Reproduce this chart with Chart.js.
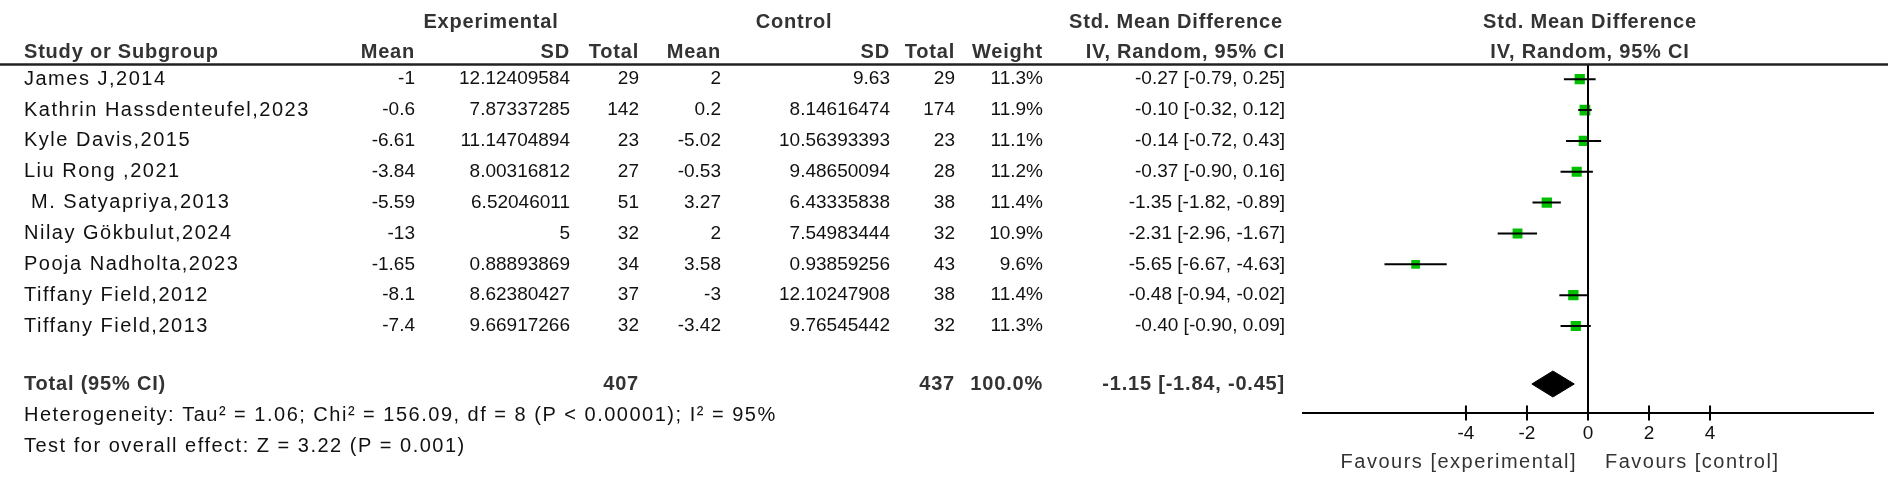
<!DOCTYPE html>
<html>
<head>
<meta charset="utf-8">
<script src="https://cdn.jsdelivr.net/npm/chart.js@4.4.1/dist/chart.umd.min.js"></script>
<style>
  html, body { margin: 0; padding: 0; background: #fff; }
  #wrap { width: 1901px; height: 481px; position: relative; }
</style>
</head>
<body>
<div id="wrap"><canvas id="forest"></canvas></div>
<script>
const studies = ['James J,2014', 'Kathrin Hassdenteufel,2023', 'Kyle Davis,2015', 'Liu Rong ,2021', ' M. Satyapriya,2013',
	'Nilay Gökbulut,2024', 'Pooja Nadholta,2023', 'Tiffany Field,2012', 'Tiffany Field,2013'];
const expMean = ['-1', '-0.6', '-6.61', '-3.84', '-5.59', '-13', '-1.65', '-8.1', '-7.4'];
const expSD = ['12.12409584', '7.87337285', '11.14704894', '8.00316812', '6.52046011', '5', '0.88893869', '8.62380427', '9.66917266'];
const expTotal = [29, 142, 23, 27, 51, 32, 34, 37, 32];
const ctlMean = ['2', '0.2', '-5.02', '-0.53', '3.27', '2', '3.58', '-3', '-3.42'];
const ctlSD = ['9.63', '8.14616474', '10.56393393', '9.48650094', '6.43335838', '7.54983444', '0.93859256', '12.10247908', '9.76545442'];
const ctlTotal = [29, 174, 23, 28, 38, 32, 43, 38, 32];
const weight = [11.3, 11.9, 11.1, 11.2, 11.4, 10.9, 9.6, 11.4, 11.3];
const smd = [-0.27, -0.10, -0.14, -0.37, -1.35, -2.31, -5.65, -0.48, -0.40];
const ciLow = [-0.79, -0.32, -0.72, -0.90, -1.82, -2.96, -6.67, -0.94, -0.90];
const ciHigh = [0.25, 0.12, 0.43, 0.16, -0.89, -1.67, -4.63, -0.02, 0.09];
const totalN = [407, 437];
const totalEst = [-1.15, -1.84, -0.45]; // estimate, lower, upper
const xTicks = [-4, -2, 0, 2, 4];

const TOTAL_ROW = 9.88;
const fmt = v => v.toFixed(2);

const datasets = [];
studies.forEach((s, i) => {
	datasets.push({
		type: 'line',
		data: [{ x: ciLow[i], y: i }, { x: ciHigh[i], y: i }],
		borderColor: '#000',
		borderWidth: 2,
		pointRadius: 0,
	});
});
datasets.push({
	type: 'scatter',
	data: smd.map((v, i) => ({ x: v, y: i })),
	pointStyle: 'rect',
	pointRadius: weight.map(w => w * 0.64),
	backgroundColor: '#00c000',
	borderColor: '#00c000',
	borderWidth: 0,
});
// pooled estimate diamond
datasets.push({
	type: 'line',
	data: [
		{ x: totalEst[1], y: TOTAL_ROW },
		{ x: totalEst[0], y: TOTAL_ROW - 0.42 },
		{ x: totalEst[2], y: TOTAL_ROW },
		{ x: totalEst[0], y: TOTAL_ROW + 0.42 },
		{ x: totalEst[1], y: TOTAL_ROW },
	],
	borderColor: '#000',
	borderWidth: 1,
	backgroundColor: '#000',
	fill: 'shape',
	pointRadius: 0,
	tension: 0,
});

const FAM = '"Liberation Sans", Arial, sans-serif';
const WORD = ['20px ' + FAM, '1.5px'];
const NUM = ['19px ' + FAM, '0px'];
const BOLD = ['bold 20px ' + FAM, '0.8px'];

const tablePlugin = {
	id: 'table',
	afterDraw(chart) {
		const { ctx, scales: { x, y }, chartArea } = chart;
		const row = v => y.getPixelForValue(v);
		const txt = (s, px, py, align, f, color) => {
			ctx.font = f[0];
			ctx.letterSpacing = f[1];
			ctx.textAlign = align;
			ctx.fillStyle = color || '#111';
			ctx.fillText(s, px, py);
		};
		ctx.save();
		ctx.textBaseline = 'middle';

		// zero line and upper half of tick marks
		ctx.strokeStyle = '#000';
		ctx.lineWidth = 2;
		ctx.beginPath();
		ctx.moveTo(x.getPixelForValue(0), chartArea.top);
		ctx.lineTo(x.getPixelForValue(0), chartArea.bottom);
		xTicks.forEach(t => {
			ctx.moveTo(x.getPixelForValue(t), chartArea.bottom - 7);
			ctx.lineTo(x.getPixelForValue(t), chartArea.bottom);
		});
		ctx.stroke();

		// header rule
		ctx.lineWidth = 2.5;
		ctx.strokeStyle = '#222';
		ctx.beginPath();
		ctx.moveTo(0, chartArea.top);
		ctx.lineTo(1888, chartArea.top);
		ctx.stroke();

		// headers
		const h1 = row(-1.835), h2 = row(-0.85);
		const H = '#333';
		txt('Experimental', 491, h1, 'center', BOLD, H);
		txt('Control', 794, h1, 'center', BOLD, H);
		txt('Std. Mean Difference', 1176, h1, 'center', BOLD, H);
		txt('Std. Mean Difference', 1590, h1, 'center', BOLD, H);
		txt('Study or Subgroup', 24, h2, 'left', BOLD, H);
		txt('Mean', 415, h2, 'right', BOLD, H);
		txt('SD', 570, h2, 'right', BOLD, H);
		txt('Total', 639, h2, 'right', BOLD, H);
		txt('Mean', 721, h2, 'right', BOLD, H);
		txt('SD', 890, h2, 'right', BOLD, H);
		txt('Total', 955, h2, 'right', BOLD, H);
		txt('Weight', 1043, h2, 'right', BOLD, H);
		txt('IV, Random, 95% CI', 1285, h2, 'right', BOLD, H);
		txt('IV, Random, 95% CI', 1590, h2, 'center', BOLD, H);

		// study rows
		studies.forEach((s, i) => {
			const py = row(i);
			txt(s, 24, py, 'left', WORD);
			txt(expMean[i], 415, py, 'right', NUM);
			txt(expSD[i], 570, py, 'right', NUM);
			txt(String(expTotal[i]), 639, py, 'right', NUM);
			txt(ctlMean[i], 721, py, 'right', NUM);
			txt(ctlSD[i], 890, py, 'right', NUM);
			txt(String(ctlTotal[i]), 955, py, 'right', NUM);
			txt(weight[i].toFixed(1) + '%', 1043, py, 'right', NUM);
			txt(fmt(smd[i]) + ' [' + fmt(ciLow[i]) + ', ' + fmt(ciHigh[i]) + ']', 1285, py, 'right', NUM);
		});

		// total row
		const pt = row(TOTAL_ROW);
		txt('Total (95% CI)', 24, pt, 'left', BOLD, H);
		txt(String(totalN[0]), 639, pt, 'right', BOLD, H);
		txt(String(totalN[1]), 955, pt, 'right', BOLD, H);
		txt('100.0%', 1043, pt, 'right', BOLD, H);
		txt(fmt(totalEst[0]) + ' [' + fmt(totalEst[1]) + ', ' + fmt(totalEst[2]) + ']', 1285, pt, 'right', BOLD, H);

		txt('Heterogeneity: Tau² = 1.06; Chi² = 156.09, df = 8 (P < 0.00001); I² = 95%', 24, row(10.885), 'left', WORD);
		txt('Test for overall effect: Z = 3.22 (P = 0.001)', 24, row(11.92), 'left', WORD);

		txt('Favours [experimental]', 1577, row(12.41), 'right', WORD, '#333');
		txt('Favours [control]', 1605, row(12.41), 'left', WORD, '#333');
		ctx.restore();
	},
};

new Chart(document.getElementById('forest'), {
	type: 'scatter',
	data: { datasets },
	options: {
		responsive: true,
		maintainAspectRatio: false,
		animation: false,
		layout: { padding: { left: 1303, right: 28, top: 64.6, bottom: 0 } },
		plugins: { legend: { display: false }, tooltip: { enabled: false } },
		scales: {
			x: {
				type: 'linear',
				position: 'bottom',
				min: -9.34,
				max: 9.34,
				afterBuildTicks: axis => { axis.ticks = xTicks.map(v => ({ value: v })); },
				afterFit: axis => { axis.height = 68.4; },
				ticks: { color: '#111', font: { family: FAM, size: 19 }, padding: 2, maxRotation: 0 },
				grid: { drawOnChartArea: false, drawTicks: true, tickLength: 8, color: '#000', lineWidth: 2 },
				border: { display: true, color: '#000', width: 2 },
			},
			y: {
				type: 'linear',
				reverse: true,
				min: -0.473,
				max: 10.807,
				display: false,
			},
		},
	},
	plugins: [tablePlugin],
});
</script>
</body>
</html>
